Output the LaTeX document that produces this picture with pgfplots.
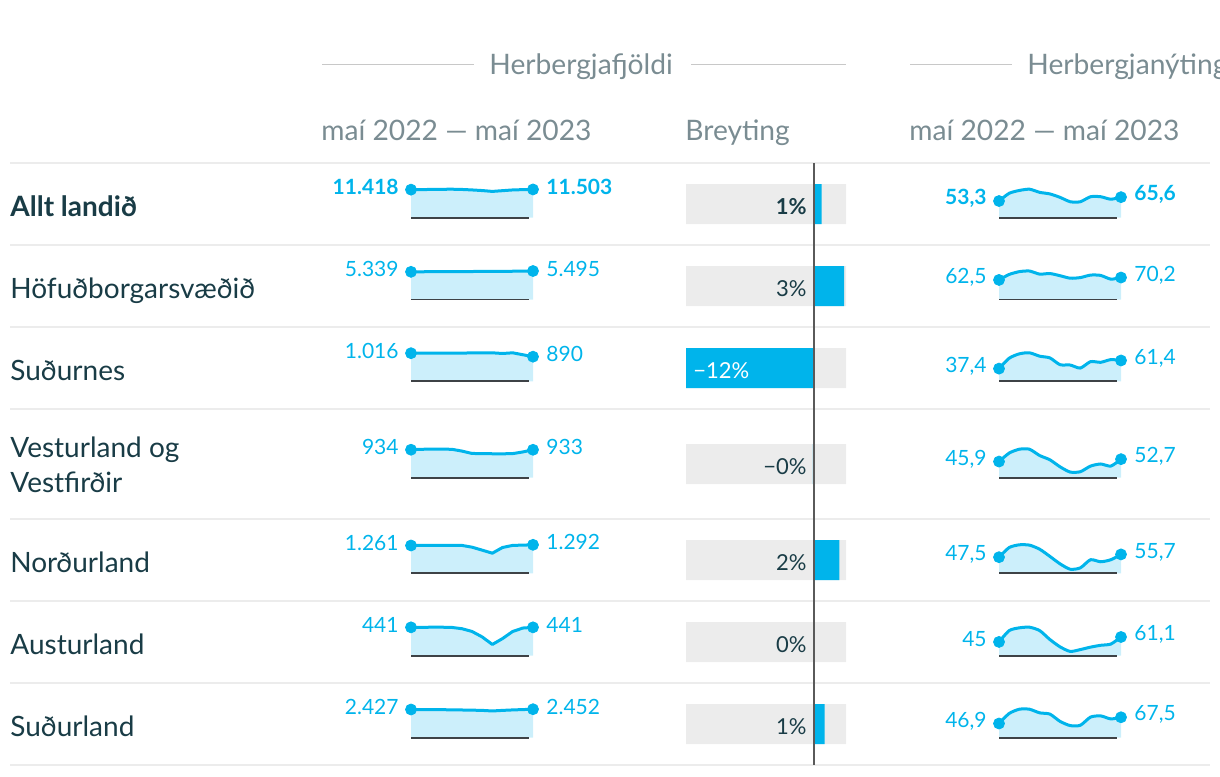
\documentclass[border=0pt]{standalone}
\usepackage{pgfplots}
\pgfplotsset{compat=1.18}
\usepackage{pgfplotstable}
\usepackage{fontspec}
\setmainfont{Lato}

\definecolor{cy}{RGB}{0,180,235}
\definecolor{cyfill}{RGB}{204,239,251}
\definecolor{ink}{RGB}{25,60,70}
\definecolor{hdr}{RGB}{122,140,146}
\definecolor{sepc}{RGB}{236,236,236}
\definecolor{rulec}{RGB}{200,200,200}
\definecolor{basec}{RGB}{62,66,70}
\definecolor{zeroc}{RGB}{90,90,90}

\newcommand\hfont{\fontsize{14.1pt}{16pt}\selectfont}
\newcommand\lfont{\fontsize{14pt}{16pt}\selectfont}
\newcommand\numfont{\fontsize{10.5pt}{12pt}\selectfont}
\newcommand\barfont{\fontsize{11pt}{13pt}\selectfont}

% monthly values, May 2022 .. May 2023
% a = herbergjafjoldi, b = herbergjanyting (%)
\pgfplotstableread{
m  a1    a2   a3   a4  a5   a6  a7   b1   b2   b3   b4   b5   b6   b7
0  11418 5339 1016 934 1261 441 2427 53.3 62.5 37.4 45.9 47.5 45   46.9
1  11450 5350 1018 950 1265 441 2425 78   80   68   70   76   82   80
2  11500 5360 1020 952 1268 443 2420 87   89   81   81   84   91   94
3  11560 5370 1020 952 1268 443 2410 91   91   84   81   83   93   94
4  11600 5380 1022 950 1268 440 2400 81   81   74   63   71   82   82
5  11500 5390 1022 890 1265 420 2385 76   83   69   51   50   53   78
6  11300 5400 1024 810 1185 377 2370 65   76   49   31   28   29   54
7  11050 5410 1026 805 1050 292 2350 51   68   48   16   12   14   40
8  10700 5420 1030 800 912  175 2300 51   70   39   17   16   20   41
9  11000 5430 1005 798 1170 266 2350 67   78   58   33   40   28   68
10 11300 5450 1030 805 1265 377 2390 67   77   56   39   34   34   72
11 11420 5470 960  860 1278 430 2420 59   65   64   33   40   38   62
12 11503 5495 890  933 1292 441 2452 65.6 70.2 61.4 52.7 55.7 61.1 67.5
}\sdata

\pgfplotsset{
  spark/.style={scale only axis, width=61pt, height=14.25pt, anchor=south west,
    xmin=0, xmax=12, ymin=0, enlargelimits=false, axis lines=none, clip=false,
    every node near coord/.append style={font=\numfont, text=cy, inner sep=0pt, yshift=1.2pt},
    /pgf/number format/assume math mode=true},
  cnt/.style={/pgf/number format/fixed, /pgf/number format/precision=0,
    /pgf/number format/1000 sep={.}},
  pct/.style={/pgf/number format/fixed, /pgf/number format/precision=1,
    /pgf/number format/use comma},
  dot/.style={only marks, mark=*, mark size=2.75pt, mark options={fill=cy, draw=cy}, nodes near coords},
}

% #1 x, #2 baseline y (px of the picture), #3 column, #4 plot options, #5 axis options
\newcommand{\spark}[5]{%
\begin{axis}[spark, at={(#1*0.5pt, -#2*0.5pt)}, #5]
\addplot[draw=none, fill=cyfill, #4] table[x=m, y=#3]{\sdata} \closedcycle;
\addplot[basec, line width=0.85pt] coordinates {(0,0) (11.65,0)};
\addplot[cy, line width=1.5pt, line join=round, #4] table[x=m, y=#3]{\sdata};
\addplot[dot, every node near coord/.append style={anchor=east, xshift=-6pt},
  skip coords between index={1}{13}] table[x=m, y=#3]{\sdata};
\addplot[dot, every node near coord/.append style={anchor=west, xshift=6.5pt},
  skip coords between index={0}{12}] table[x=m, y=#3]{\sdata};
\end{axis}}

\begin{document}
\begin{tikzpicture}[x=0.5pt, y=-0.5pt]
\useasboundingbox (0,0) rectangle (1220,776);

% header
\draw[rulec, line width=0.8pt] (322,64.5) -- (474,64.5);
\draw[rulec, line width=0.8pt] (691,64.5) -- (846,64.5);
\draw[rulec, line width=0.8pt] (910,64.5) -- (1012,64.5);
\node[anchor=base west, inner sep=0pt, text=hdr, font=\hfont] at (489,74.5) {Herbergjafjöldi};
\node[anchor=base west, inner sep=0pt, text=hdr, font=\hfont] at (1027,74.5) {Herbergjanýting};
\node[anchor=base west, inner sep=0pt, text=hdr, font=\hfont] at (321,140) {maí 2022 — maí 2023};
\node[anchor=base west, inner sep=0pt, text=hdr, font=\hfont] at (685,140) {Breyting};
\node[anchor=base west, inner sep=0pt, text=hdr, font=\hfont] at (909,140) {maí 2022 — maí 2023};

% row separators
\foreach \yy in {163,245,327,409,519,601,683,765}
  \draw[sepc, line width=1pt] (10,\yy) -- (1210,\yy);

% row labels
\node[anchor=base west, inner sep=0pt, text=ink, font=\lfont\bfseries] at (10,216) {Allt landið};
\node[anchor=base west, inner sep=0pt, text=ink, font=\lfont] at (10,298) {Höfuðborgarsvæðið};
\node[anchor=base west, inner sep=0pt, text=ink, font=\lfont] at (10,380) {Suðurnes};
\node[anchor=base west, inner sep=0pt, text=ink, font=\lfont] at (10,457) {Vesturland og};
\node[anchor=base west, inner sep=0pt, text=ink, font=\lfont] at (10,492) {Vestfirðir};
\node[anchor=base west, inner sep=0pt, text=ink, font=\lfont] at (10,572) {Norðurland};
\node[anchor=base west, inner sep=0pt, text=ink, font=\lfont] at (10,654) {Austurland};
\node[anchor=base west, inner sep=0pt, text=ink, font=\lfont] at (10,736) {Suðurland};

% room counts
\spark{411}{217.7}{a1}{}{cnt, every node near coord/.append style={font=\numfont\bfseries}}
\spark{411}{299.5}{a2}{}{cnt}
\spark{411}{381.3}{a3}{}{cnt}
\spark{411}{477.7}{a4}{}{cnt}
\spark{411}{573.3}{a5}{}{cnt}
\spark{411}{655.7}{a6}{}{cnt}
\spark{411}{737.7}{a7}{}{cnt}

% occupancy
\spark{999}{217.7}{b1}{smooth, tension=0.4}{pct, every node near coord/.append style={font=\numfont\bfseries}}
\spark{999}{299.5}{b2}{smooth, tension=0.4}{pct}
\spark{999}{381.3}{b3}{smooth, tension=0.4}{pct}
\spark{999}{477.7}{b4}{smooth, tension=0.4}{pct}
\spark{999}{573.3}{b5}{smooth, tension=0.4}{pct}
\spark{999}{655.7}{b6}{smooth, tension=0.4}{pct}
\spark{999}{737.7}{b7}{smooth, tension=0.4}{pct}

% change in room count, %
\begin{axis}[scale only axis, width=80pt, height=301pt, at={(343pt,-382.5pt)}, anchor=south west,
  xmin=-12.4, xmax=3.1, ymin=163, ymax=765, y dir=reverse, axis lines=none, clip=false]
\addplot[xbar, bar width=20pt, bar shift=0pt, fill=sepc, draw=none]
  coordinates {(-12.4,204) (-12.4,286) (-12.4,368) (-12.4,464) (-12.4,560) (-12.4,642) (-12.4,724)};
\addplot[xbar, bar width=20pt, bar shift=0pt, fill=sepc, draw=none]
  coordinates {(3.1,204) (3.1,286) (3.1,368) (3.1,464) (3.1,560) (3.1,642) (3.1,724)};
\addplot[xbar, bar width=20pt, bar shift=0pt, fill=cy, draw=none]
  coordinates {(0.74,204) (2.92,286) (-12.4,368) (-0.11,464) (2.46,560) (0,642) (1.03,724)};
\addplot[zeroc, line width=1pt, no marks] coordinates {(0,163) (0,765)};
\end{axis}

\node[anchor=base east, inner sep=0pt, text=ink, font=\barfont\bfseries] at (807,214) {1\%};
\node[anchor=base east, inner sep=0pt, text=ink, font=\barfont] at (807,296) {3\%};
\node[anchor=base west, inner sep=0pt, text=white, font=\barfont] at (693,378) {−12\%};
\node[anchor=base east, inner sep=0pt, text=ink, font=\barfont] at (807,474) {−0\%};
\node[anchor=base east, inner sep=0pt, text=ink, font=\barfont] at (807,570) {2\%};
\node[anchor=base east, inner sep=0pt, text=ink, font=\barfont] at (807,652) {0\%};
\node[anchor=base east, inner sep=0pt, text=ink, font=\barfont] at (807,734) {1\%};
\end{tikzpicture}
\end{document}
